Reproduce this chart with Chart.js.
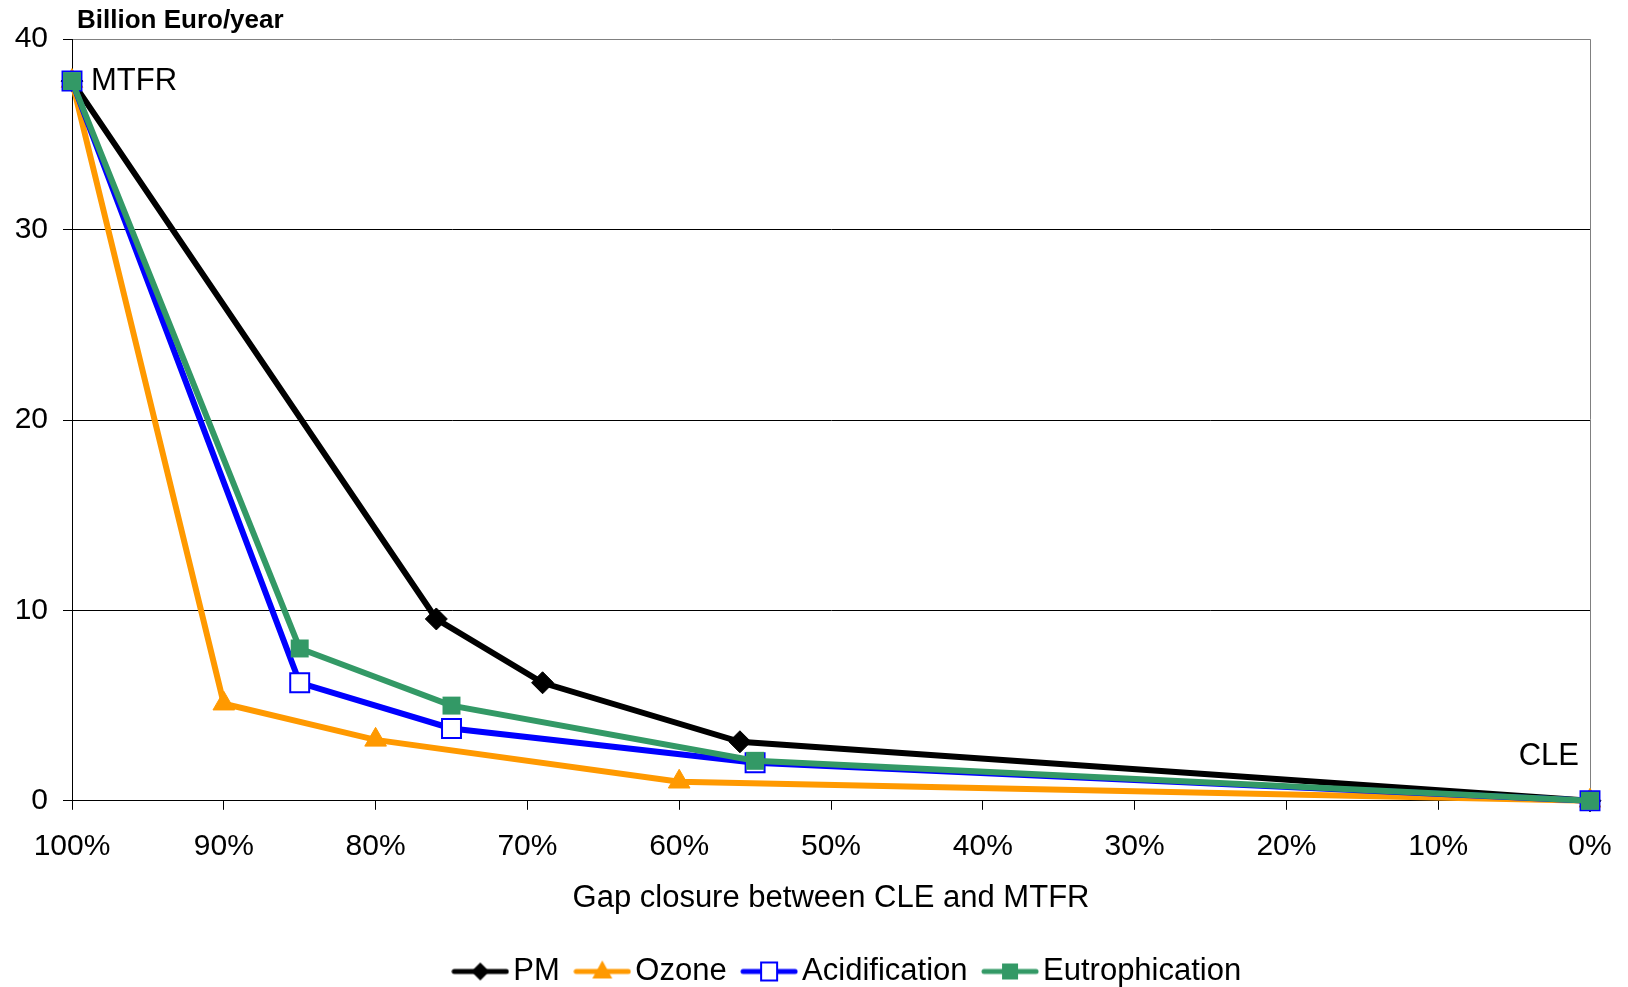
<!DOCTYPE html>
<html>
<head>
<meta charset="utf-8">
<script src="https://cdn.jsdelivr.net/npm/chart.js@4.4.1/dist/chart.umd.min.js"></script>
<style>
html, body { margin: 0; padding: 0; background: #fff; }
</style>
</head>
<body>
<canvas id="myChart" width="1628" height="987"></canvas>
<script>
// data block
const seriesNames = ['PM', 'Ozone', 'Acidification', 'Eutrophication'];
const pmX = [100, 76, 69, 56, 0];
const pmY = [37.8, 9.55, 6.2, 3.1, 0];
const ozoneX = [100, 90, 80, 60, 0];
const ozoneY = [37.8, 5.1, 3.2, 1.0, 0];
const acidX = [100, 85, 75, 55, 0];
const acidY = [37.8, 6.2, 3.8, 2.0, 0];
const eutroX = [100, 85, 75, 55, 0];
const eutroY = [37.8, 8.0, 5.0, 2.1, 0];
const xTickValues = [100, 90, 80, 70, 60, 50, 40, 30, 20, 10, 0];
const yTickValues = [0, 10, 20, 30, 40];
const endLabels = ['MTFR', 'CLE'];

const colors = ['#000000', '#FF9900', '#0000FF', '#339966'];

function toPoints(xs, ys) {
    return xs.map((x, i) => ({x: x, y: ys[i]}));
}

// little line+marker pictures for the legend
function legendSymbol(i) {
    const c = document.createElement('canvas');
    c.width = 58;
    c.height = 26;
    const g = c.getContext('2d');
    const cx = 29, cy = 13;
    g.strokeStyle = colors[i];
    g.lineWidth = 5;
    g.lineCap = 'round';
    g.beginPath();
    g.moveTo(3, cy);
    g.lineTo(55, cy);
    g.stroke();
    g.fillStyle = colors[i];
    g.beginPath();
    if (i === 0) {
        g.moveTo(cx - 9, cy); g.lineTo(cx, cy - 9); g.lineTo(cx + 9, cy); g.lineTo(cx, cy + 9);
        g.closePath(); g.fill();
    } else if (i === 1) {
        g.moveTo(cx, cy - 11); g.lineTo(cx + 10, cy + 7); g.lineTo(cx - 10, cy + 7);
        g.closePath(); g.fill();
    } else if (i === 2) {
        g.fillStyle = '#fff';
        g.fillRect(cx - 8, cy - 9, 16, 18);
        g.lineWidth = 2;
        g.strokeRect(cx - 8, cy - 9, 16, 18);
    } else {
        g.fillRect(cx - 8, cy - 8, 16, 16);
    }
    return c;
}

// MTFR / CLE text next to the end points
const endLabelPlugin = {
    id: 'endLabels',
    afterLayout(chart) {
        // nudge heading and legend to where the original puts them
        chart.titleBlock.left = 77;
        chart.legend.left += 38;
        chart.legend.right += 38;
    },
    afterDatasetsDraw(chart) {
        const ctx = chart.ctx;
        const xs = chart.scales.x, ys = chart.scales.y;
        ctx.save();
        ctx.fillStyle = '#000';
        ctx.font = "31px 'Liberation Sans', Arial, sans-serif";
        ctx.textBaseline = 'middle';
        ctx.textAlign = 'left';
        ctx.fillText(endLabels[0], xs.getPixelForValue(acidX[0]) + 19, ys.getPixelForValue(acidY[0]));
        ctx.textAlign = 'right';
        ctx.fillText(endLabels[1], xs.getPixelForValue(acidX[4]) - 11, ys.getPixelForValue(acidY[4]) - 44);
        ctx.restore();
    }
};

Chart.defaults.font.family = "'Liberation Sans', Arial, sans-serif";
Chart.defaults.color = '#000';

const ctx = document.getElementById('myChart').getContext('2d');
const myChart = new Chart(ctx, {
    type: 'line',
    data: {
        datasets: [
            {
                label: seriesNames[0],
                data: toPoints(pmX, pmY),
                borderColor: colors[0],
                backgroundColor: colors[0],
                borderWidth: 6,
                pointStyle: 'rectRot',
                pointRadius: 11,
                pointBorderWidth: 1,
                order: 3
            },
            {
                label: seriesNames[1],
                data: toPoints(ozoneX, ozoneY),
                borderColor: colors[1],
                backgroundColor: colors[1],
                borderWidth: 6,
                pointStyle: 'triangle',
                pointRadius: 12.5,
                pointBorderWidth: 1,
                order: 2
            },
            {
                label: seriesNames[2],
                data: toPoints(acidX, acidY),
                borderColor: colors[2],
                backgroundColor: colors[2],
                borderWidth: 6,
                pointStyle: 'rect',
                pointRadius: 13.4,
                pointBackgroundColor: '#fff',
                pointBorderColor: colors[2],
                pointBorderWidth: 2,
                order: 1
            },
            {
                label: seriesNames[3],
                data: toPoints(eutroX, eutroY),
                borderColor: colors[3],
                backgroundColor: colors[3],
                borderWidth: 6,
                pointStyle: 'rect',
                pointRadius: 12.7,
                pointBorderWidth: 0,
                order: 0
            }
        ]
    },
    options: {
        responsive: false,
        animation: false,
        clip: false,
        layout: {
            padding: {left: 0, right: 0, top: 0, bottom: -10}
        },
        elements: {
            line: {tension: 0}
        },
        plugins: {
            tooltip: {enabled: false},
            title: {
                display: true,
                text: 'Billion Euro/year',
                align: 'start',
                color: '#000',
                font: {size: 26, weight: 'bold'},
                padding: {top: 5, bottom: 3}
            },
            legend: {
                position: 'bottom',
                labels: {
                    usePointStyle: true,
                    pointStyleWidth: 35,
                    padding: 25,
                    color: '#000',
                    font: {size: 31},
                    generateLabels: function(chart) {
                        return chart.data.datasets.map((ds, i) => ({
                            text: ds.label,
                            fillStyle: colors[i],
                            strokeStyle: colors[i],
                            lineWidth: 0,
                            pointStyle: legendSymbol(i),
                            hidden: false,
                            datasetIndex: i
                        }));
                    }
                }
            }
        },
        scales: {
            x: {
                type: 'linear',
                reverse: true,
                min: 0,
                max: 100,
                afterBuildTicks: s => { s.ticks = xTickValues.map(v => ({value: v})); },
                afterFit: s => { s.paddingLeft = 0; s.paddingRight = 38; },
                ticks: {
                    font: {size: 30},
                    padding: 19,
                    maxRotation: 0,
                    autoSkip: false,
                    callback: v => v + '%'
                },
                grid: {
                    drawOnChartArea: true,
                    color: c => (c.tick && c.tick.value === 0) ? '#808080' : 'rgba(0,0,0,0)',
                    tickColor: '#000',
                    tickLength: 9,
                    lineWidth: 1
                },
                border: {display: true, color: '#000', width: 1},
                title: {
                    display: true,
                    text: 'Gap closure between CLE and MTFR',
                    color: '#000',
                    font: {size: 31},
                    padding: {top: -4, bottom: 14}
                }
            },
            y: {
                min: 0,
                max: 40,
                afterBuildTicks: s => { s.ticks = yTickValues.map(v => ({value: v})); },
                afterFit: s => { s.width = 72; },
                ticks: {
                    font: {size: 30},
                    padding: 15
                },
                grid: {
                    color: c => (c.tick && c.tick.value === 40) ? '#808080' : '#000',
                    tickColor: '#000',
                    tickLength: 9,
                    lineWidth: 1
                },
                border: {display: true, color: '#000', width: 1}
            }
        }
    },
    plugins: [endLabelPlugin]
});
</script>
</body>
</html>
